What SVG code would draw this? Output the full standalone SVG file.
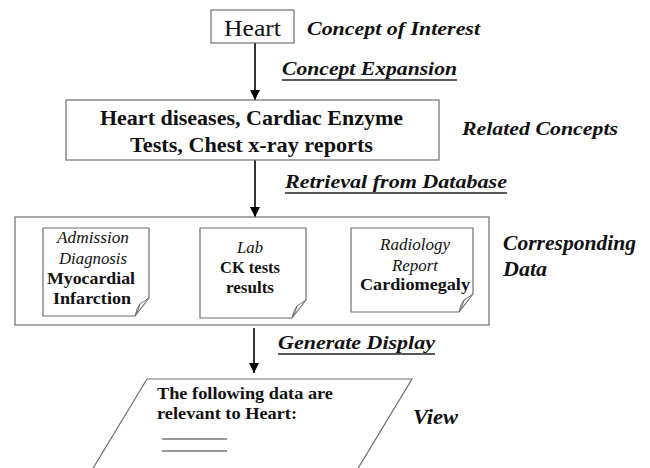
<svg xmlns="http://www.w3.org/2000/svg" width="650" height="468" viewBox="0 0 650 468">
<style>
.box{fill:#fff;stroke:#6e6e6e;stroke-width:1.2}
.doc{fill:#fff;stroke:#6e6e6e;stroke-width:1.2;stroke-linejoin:round}
.flap{fill:#fff;stroke:#6e6e6e;stroke-width:1}
.conn{stroke:#000;stroke-width:1.6;fill:none}
.t{font-family:'Liberation Serif','DejaVu Serif','Times New Roman',serif;fill:#111}
.b{font-weight:bold}
.i{font-style:italic}
.lbl{font-family:'Liberation Serif','DejaVu Serif','Times New Roman',serif;font-weight:bold;font-style:italic;fill:#111}
.ul{stroke:#222;stroke-width:1.3}
</style>
<defs>
<marker id="ah" viewBox="0 0 10 10" refX="10" refY="5" markerWidth="10" markerHeight="10" markerUnits="userSpaceOnUse" orient="auto">
<path d="M0,0 L10,5 L0,10 Z" fill="#000"/>
</marker>
</defs>
<rect width="650" height="468" fill="#fff"/>

<g id="connectors">
<line class="conn" x1="255" y1="43" x2="255" y2="100" marker-end="url(#ah)"/>
<line class="conn" x1="255" y1="160" x2="255" y2="217" marker-end="url(#ah)"/>
<line class="conn" x1="254" y1="328" x2="254" y2="373" marker-end="url(#ah)"/>
<text class="lbl" x="282" y="75" font-size="19" textLength="175" lengthAdjust="spacingAndGlyphs">Concept Expansion</text>
<line class="ul" x1="282" y1="80" x2="457" y2="80"/>
<text class="lbl" x="285" y="188" font-size="19" textLength="222" lengthAdjust="spacingAndGlyphs">Retrieval from Database</text>
<line class="ul" x1="285" y1="193" x2="507" y2="193"/>
<text class="lbl" x="278" y="349" font-size="19" textLength="157" lengthAdjust="spacingAndGlyphs">Generate Display</text>
<line class="ul" x1="278" y1="354" x2="435" y2="354"/>
</g>

<g id="heart">
<rect class="box" x="211" y="10" width="83" height="33"/>
<text class="t" x="252.5" y="36" font-size="23" text-anchor="middle" textLength="57" lengthAdjust="spacingAndGlyphs">Heart</text>
</g>
<text class="lbl" x="307" y="35" font-size="19" textLength="173" lengthAdjust="spacingAndGlyphs">Concept of Interest</text>

<g id="related">
<rect class="box" x="66" y="100" width="373" height="60"/>
<text class="t b" x="251.5" y="125" font-size="20" text-anchor="middle" textLength="303" lengthAdjust="spacingAndGlyphs">Heart diseases, Cardiac Enzyme</text>
<text class="t b" x="251.5" y="152" font-size="20" text-anchor="middle" textLength="243" lengthAdjust="spacingAndGlyphs">Tests, Chest x-ray reports</text>
</g>
<text class="lbl" x="462" y="135" font-size="19" textLength="156" lengthAdjust="spacingAndGlyphs">Related Concepts</text>

<g id="data">
<rect class="box" x="15" y="217" width="474" height="108"/>
<g id="doc-admission">
<path class="doc" d="M43,228 H149 V298 L135,316 H43 Z"/>
<path class="flap" d="M149,298 Q143,302 140,304 Q139,309 135,316 Q137,307 140,304"/>
<text class="t i" x="93" y="243" font-size="17" text-anchor="middle" textLength="72" lengthAdjust="spacingAndGlyphs">Admission</text>
<text class="t i" x="93" y="264" font-size="17" text-anchor="middle" textLength="68" lengthAdjust="spacingAndGlyphs">Diagnosis</text>
<text class="t b" x="91" y="284" font-size="17" text-anchor="middle" textLength="88" lengthAdjust="spacingAndGlyphs">Myocardial</text>
<text class="t b" x="92" y="304" font-size="17" text-anchor="middle" textLength="78" lengthAdjust="spacingAndGlyphs">Infarction</text>
</g>
<g id="doc-lab">
<path class="doc" d="M200,228 H306 V300 L292,318 H200 Z"/>
<path class="flap" d="M306,300 Q300,304 297,306 Q296,311 292,318 Q294,309 297,306"/>
<text class="t i" x="250" y="253" font-size="17" text-anchor="middle" textLength="26" lengthAdjust="spacingAndGlyphs">Lab</text>
<text class="t b" x="250" y="273" font-size="17" text-anchor="middle" textLength="60" lengthAdjust="spacingAndGlyphs">CK tests</text>
<text class="t b" x="250" y="293" font-size="17" text-anchor="middle" textLength="48" lengthAdjust="spacingAndGlyphs">results</text>
</g>
<g id="doc-radiology">
<path class="doc" d="M351,228 H473 V294 L459,312 H351 Z"/>
<path class="flap" d="M473,294 Q467,298 464,300 Q463,305 459,312 Q461,303 464,300"/>
<text class="t i" x="415" y="250" font-size="17" text-anchor="middle" textLength="70" lengthAdjust="spacingAndGlyphs">Radiology</text>
<text class="t i" x="415" y="271" font-size="17" text-anchor="middle" textLength="46" lengthAdjust="spacingAndGlyphs">Report</text>
<text class="t b" x="415" y="290" font-size="17" text-anchor="middle" textLength="110" lengthAdjust="spacingAndGlyphs">Cardiomegaly</text>
</g>
</g>
<text class="lbl" x="503" y="250" font-size="21" textLength="133" lengthAdjust="spacingAndGlyphs">Corresponding</text>
<text class="lbl" x="503" y="276" font-size="21" textLength="44" lengthAdjust="spacingAndGlyphs">Data</text>

<g id="view">
<path class="box" d="M147,379 H412 L357,470 H92 Z"/>
<text class="t b" x="157" y="399" font-size="17" textLength="176" lengthAdjust="spacingAndGlyphs">The following data are</text>
<text class="t b" x="157" y="419" font-size="17" textLength="140" lengthAdjust="spacingAndGlyphs">relevant to Heart:</text>
<line x1="162" y1="439" x2="227" y2="439" stroke="#999" stroke-width="2"/>
<line x1="162" y1="451" x2="227" y2="451" stroke="#999" stroke-width="2"/>
</g>
<text class="lbl" x="413" y="424" font-size="20" textLength="45" lengthAdjust="spacingAndGlyphs">View</text>
</svg>
